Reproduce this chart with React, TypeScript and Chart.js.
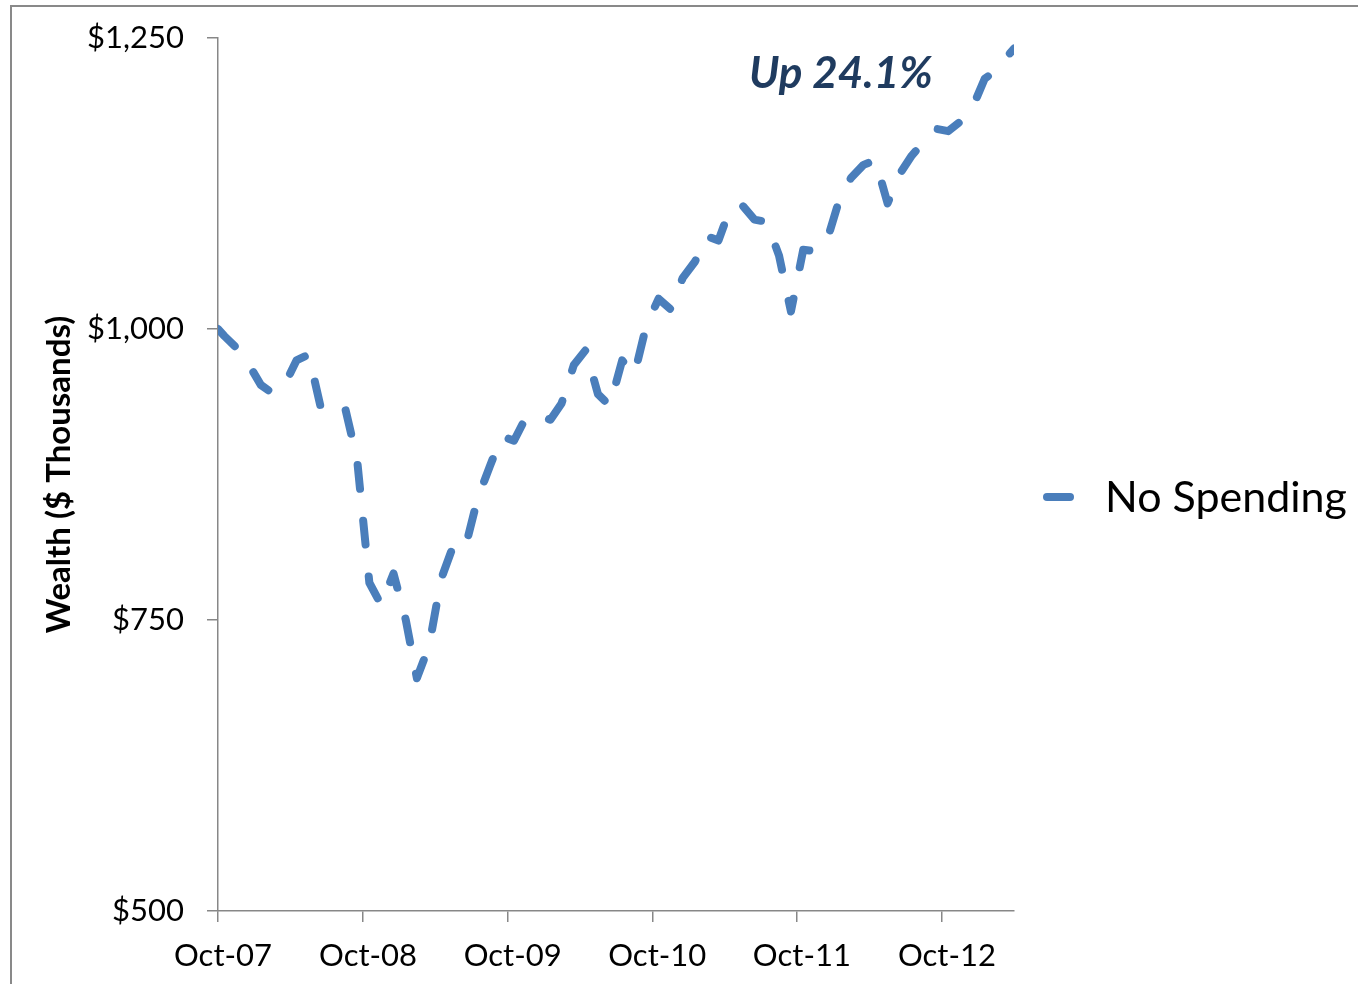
import React, { useEffect, useRef } from 'react';
import { Chart, registerables } from 'chart.js';

Chart.register(...registerables);

// Series: portfolio wealth ($ thousands) with no withdrawals.
const SERIES_LABEL = 'No Spending';
const NOTE_TEXT = 'Up 24.1%';
const Y_TITLE = 'Wealth ($ Thousands)';

const START_DATE = '2007-10-15';
const END_DATE = '2013-04-15';

// Month-end valuation dates, Oct 2007 through Mar 2013.
function monthEnds(fromY: number, fromM: number, toY: number, toM: number): string[] {
  const out: string[] = [];
  let y = fromY;
  let m = fromM;
  while (y < toY || (y === toY && m <= toM)) {
    out.push(new Date(Date.UTC(y, m, 0)).toISOString().slice(0, 10));
    m += 1;
    if (m > 12) {
      m = 1;
      y += 1;
    }
  }
  return out;
}

const valuationDates: string[] = [START_DATE, ...monthEnds(2007, 10, 2013, 3), END_DATE];

const wealth: number[] = [
  1000,
  994, 984, 970,                                                   // Oct-Dec 2007
  952, 945, 952, 973, 978, 933, 938, 932, 888, 782, 763, 790,      // 2008
  750, 700, 728, 785, 814, 812, 854, 882, 908, 904, 924, 926,      // 2009
  922, 936, 969, 982, 944, 934, 973, 961, 1003, 1026, 1017, 1044,  // 2010
  1058, 1080, 1076, 1104, 1106, 1094, 1092, 1063, 1015, 1068, 1067, 1077, // 2011
  1112, 1130, 1141, 1145, 1108, 1133, 1149, 1161, 1172, 1170, 1178, 1190, // 2012
  1215, 1222, 1235,                                                // Jan-Mar 2013
  1241,
];

const xTickDates: string[] = ['2007-10-15', '2008-10-15', '2009-10-15', '2010-10-15', '2011-10-15', '2012-10-15'];
const xTickLabels: string[] = ['Oct-07', 'Oct-08', 'Oct-09', 'Oct-10', 'Oct-11', 'Oct-12'];
const yTickValues: number[] = [500, 750, 1000, 1250];

const LINE_COLOR = '#4A7EBB';
const AXIS_COLOR = '#878787';
const NOTE_COLOR = '#1F3B5F';
const FONT = 'Lato';

const dayNumber = (iso: string) => Date.parse(iso + 'T00:00:00Z') / 86400000;
const day0 = dayNumber(START_DATE);

const decorations = {
  id: 'decorations',
  afterDraw(chart: any) {
    const ctx = chart.ctx as CanvasRenderingContext2D;
    const area = chart.chartArea;
    ctx.save();

    // outer frame
    ctx.strokeStyle = '#898989';
    ctx.lineWidth = 2;
    ctx.beginPath();
    ctx.moveTo(11, chart.height + 2);
    ctx.lineTo(11, 6);
    ctx.lineTo(chart.width + 2, 6);
    ctx.stroke();

    // legend entry
    const ly = 497;
    ctx.strokeStyle = LINE_COLOR;
    ctx.lineWidth = 8;
    ctx.lineCap = 'round';
    ctx.beginPath();
    ctx.moveTo(area.right + 33, ly);
    ctx.lineTo(area.right + 56, ly);
    ctx.stroke();
    ctx.fillStyle = '#000';
    ctx.font = `43px ${FONT}`;
    ctx.textBaseline = 'alphabetic';
    ctx.textAlign = 'left';
    ctx.fillText(SERIES_LABEL, area.right + 91, ly + 15);

    // annotation
    ctx.fillStyle = NOTE_COLOR;
    ctx.font = `italic bold 44px ${FONT}`;
    ctx.fillText(NOTE_TEXT, 749, 88);

    ctx.restore();
  },
};

export default function App() {
  const canvasRef = useRef<HTMLCanvasElement | null>(null);

  useEffect(() => {
    if (!canvasRef.current) return;
    const points = valuationDates.map((d, i) => ({ x: dayNumber(d) - day0, y: wealth[i] }));
    const xTickDays = xTickDates.map((d) => dayNumber(d) - day0);

    const chart = new Chart(canvasRef.current, {
      type: 'line',
      data: {
        datasets: [
          {
            label: SERIES_LABEL,
            data: points,
            borderColor: LINE_COLOR,
            backgroundColor: LINE_COLOR,
            borderWidth: 8,
            borderDash: [24, 32],
            borderCapStyle: 'round',
            borderJoinStyle: 'round',
            pointRadius: 0,
            pointHoverRadius: 0,
            tension: 0,
            fill: false,
          },
        ],
      },
      options: {
        animation: false,
        responsive: true,
        maintainAspectRatio: false,
        events: [],
        layout: { autoPadding: false, padding: { top: 38, right: 344, bottom: 0, left: 0 } },
        plugins: {
          legend: { display: false },
          tooltip: { enabled: false },
        },
        scales: {
          x: {
            type: 'linear',
            min: 0,
            max: dayNumber(END_DATE) - day0,
            afterBuildTicks: (scale: any) => {
              scale.ticks = xTickDays.map((v) => ({ value: v }));
            },
            afterFit: (scale: any) => {
              scale.height = 73;
              scale.paddingLeft = 0;
              scale.paddingRight = 0;
            },
            grid: { drawOnChartArea: false, drawTicks: true, tickLength: 11, color: AXIS_COLOR, lineWidth: 1.5 },
            border: { color: AXIS_COLOR, width: 1.5 },
            ticks: {
              autoSkip: false,
              maxRotation: 0,
              padding: 15,
              labelOffset: 5,
              color: '#000',
              font: { family: FONT, size: 31 },
              callback: (_v: any, i: number) => xTickLabels[i],
            },
          },
          y: {
            type: 'linear',
            min: 500,
            max: 1250,
            afterBuildTicks: (scale: any) => {
              scale.ticks = yTickValues.map((v) => ({ value: v }));
            },
            afterFit: (scale: any) => {
              scale.width = 218;
              scale.paddingTop = 0;
              scale.paddingBottom = 0;
            },
            grid: { drawOnChartArea: false, drawTicks: true, tickLength: 11, color: AXIS_COLOR, lineWidth: 1.5 },
            border: { color: AXIS_COLOR, width: 1.5 },
            ticks: {
              padding: 23,
              color: '#000',
              font: { family: FONT, size: 31 },
              callback: (v: any) => '$' + Number(v).toLocaleString('en-US'),
            },
            title: {
              display: true,
              text: Y_TITLE,
              color: '#000',
              font: { family: FONT, size: 33, weight: 'bold' },
              padding: { top: 40, bottom: 0 },
            },
          },
        },
      },
      plugins: [decorations],
    } as any);

    return () => chart.destroy();
  }, []);

  return (
    <div style={{ position: 'fixed', left: 0, top: 0, width: 1358, height: 984, background: '#fff' }}>
      <canvas ref={canvasRef} />
    </div>
  );
}
